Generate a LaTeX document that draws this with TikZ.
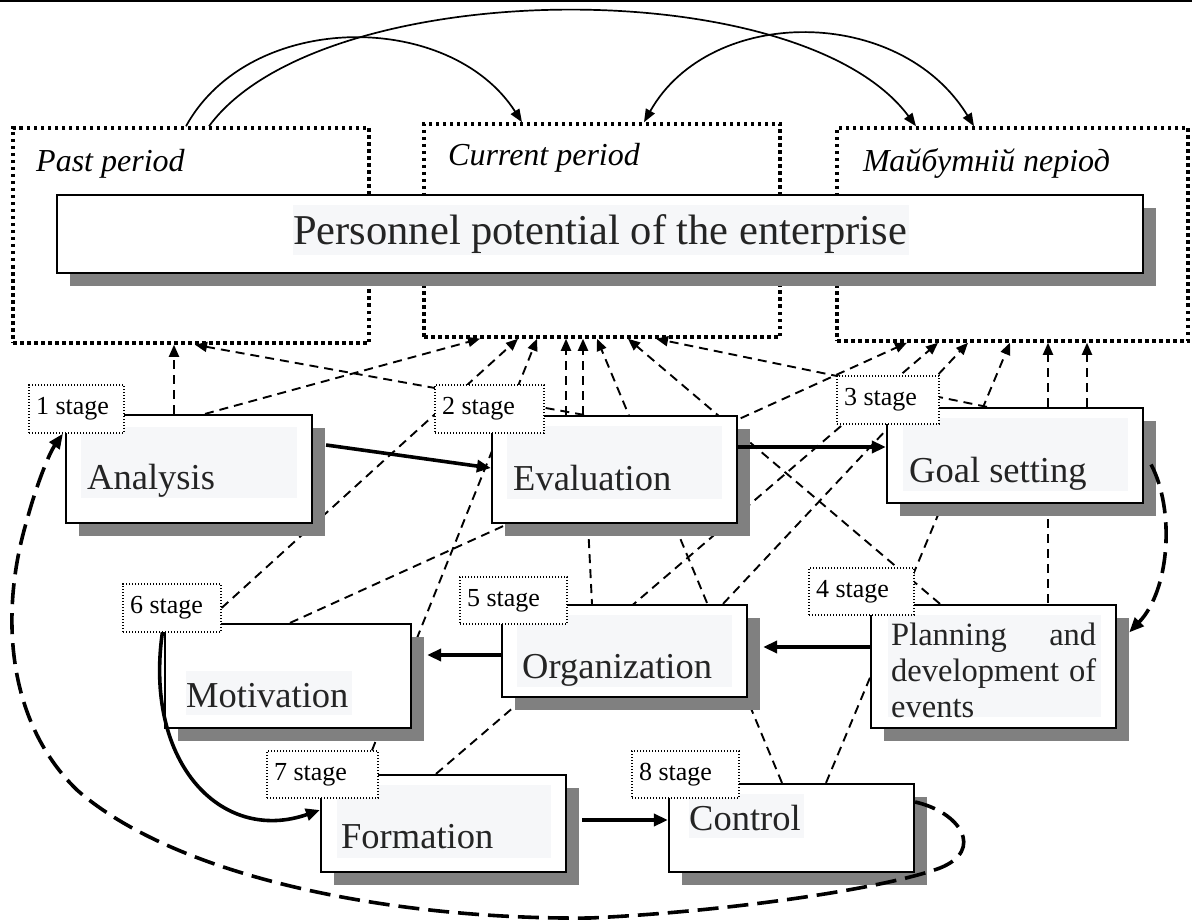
\documentclass[tikz,border=0pt]{standalone}
\usepackage{fontspec}
\setmainfont{Liberation Serif}
\usetikzlibrary{arrows.meta,shadows,backgrounds,calc}
\definecolor{hl}{HTML}{F6F7F9}
\definecolor{txt}{HTML}{242424}
\definecolor{shd}{HTML}{808080}
\begin{document}
\begin{tikzpicture}[x=1pt,y=-1pt,
  period/.style={draw, line width=3.5pt, dash pattern=on 3.5pt off 3.5pt, inner sep=0pt},
  box/.style={draw=black, fill=white, line width=2.2pt, inner sep=0pt,
    drop shadow={shadow xshift=13pt, shadow yshift=-13pt, fill=shd, draw=none, opacity=1}},
  lbl/.style={draw, fill=white, line width=1.2pt, dash pattern=on 1.2pt off 1.8pt, inner sep=0pt,
    font=\fontsize{26}{30}\selectfont, text=black},
  btxt/.style={anchor=base west, inner sep=0pt, text=txt, font=\fontsize{36.5}{42}\selectfont},
  ptxt/.style={anchor=base west, inner sep=0pt, text=black, font=\fontsize{32}{38}\selectfont\itshape},
  dsh/.style={line width=1.9pt, dash pattern=on 9pt off 6pt, -{Triangle[length=12pt,width=10pt]}},
  dshl/.style={line width=1.9pt, dash pattern=on 9pt off 6pt},
  sol/.style={line width=3.6pt, -{Triangle[length=14pt,width=12pt]}},
  arcl/.style={line width=1.7pt, -{Triangle[length=13pt,width=10pt]}},
  bigd/.style={line width=3.6pt, dash pattern=on 21pt off 9pt, -{Triangle[length=15pt,width=12pt]}}
]
\useasboundingbox (0,0) rectangle (1192,920);
\draw[line width=2pt] (0,1) -- (1192,1);

% period boxes
\node[period, minimum width=356pt, minimum height=215pt] (past) at (191,235.5) {};
\node[period, minimum width=356pt, minimum height=213pt] (cur) at (602,230.5) {};
\node[period, minimum width=351pt, minimum height=213pt] (fut) at (1012.5,234.5) {};
\node[ptxt] (pastt) at (36,172) {Past period};
\node[ptxt] (curt) at (448,166) {Current period};
\node[ptxt] (futt) at (863,172) {Майбутній період};

% main box
\node[box, minimum width=1086pt, minimum height=78pt] (main) at (600,234) {};
\fill[hl] (293,205) rectangle (909,255);
\node[btxt, font=\fontsize{42.5}{50}\selectfont] (maint) at (293,245) {Personnel potential of the enterprise};

% stage boxes
\node[box, minimum width=246pt, minimum height=108pt] (ana) at (189,469) {};
\node[box, minimum width=245pt, minimum height=107pt] (eva) at (614.5,469.5) {};
\node[box, minimum width=256pt, minimum height=95pt] (goal) at (1015,455.5) {};
\node[box, minimum width=245pt, minimum height=123pt] (plan) at (993.5,666.5) {};
\node[box, minimum width=245pt, minimum height=92pt] (org) at (624.5,651) {};
\node[box, minimum width=246pt, minimum height=104pt] (mot) at (288,676) {};
\node[box, minimum width=245pt, minimum height=97pt] (form) at (443.5,823.5) {};
\node[box, minimum width=245pt, minimum height=88pt] (ctrl) at (791.5,828) {};

% text highlights and texts
\fill[hl] (81,427) rectangle (297,498);
\fill[hl] (507,426) rectangle (722,499);
\fill[hl] (903,418) rectangle (1128,491);
\fill[hl] (888,615) rectangle (1101,717);
\fill[hl] (517,615) rectangle (732,687);
\fill[hl] (186,671) rectangle (352,715);
\fill[hl] (337,785) rectangle (551,858);
\fill[hl] (689,794) rectangle (804,838);
\node[btxt] (anat) at (87,489) {Analysis};
\node[btxt] (evat) at (513,490) {Evaluation};
\node[btxt] (goalt) at (909,482) {Goal setting};
\node[btxt] (orgt) at (522,678) {Organization};
\node[btxt] (mott) at (186,707) {Motivation};
\node[btxt] (formt) at (341,848) {Formation};
\node[btxt] (ctrlt) at (689,830) {Control};
\begin{scope}
\clip (885,610) rectangle (1105,717.5);
\node[anchor=north west, inner sep=0pt, text=txt, align=left,
  font=\fontsize{32.5}{36}\selectfont] (plant) at (891,623)
  {\makebox[205pt][s]{Planning and}\\\makebox[205pt][s]{development of}\\\makebox[205pt][l]{events}};
\end{scope}

% solid arrows
\draw[sol] ($(ana.east)+(13,-24)$) -- (eva.west |- 0,468);
\draw[sol] (eva.east |- 0,447) -- (goal.west |- 0,447);
\draw[sol] (plan.west |- 0,647) -- ($(org.east |- 0,647)+(15,0)$);
\draw[sol] (org.west |- 0,655) -- ($(mot.east |- 0,655)+(15,0)$);
\draw[sol] ($(form.east |- 0,820)+(15,0)$) -- (ctrl.west |- 0,820);
\draw[sol] (mot.north west) .. controls (140,760) and (220,845) .. (form.west |- 0,810);

% top arcs
\draw[arcl] (186,0 |- past.north) .. controls (250,10) and (450,10) .. (522,0 |- cur.north);
\draw[arcl] (209,0 |- past.north) .. controls (320,-25) and (800,-30) .. (916,0 |- fut.north);
\draw[arcl, {Triangle[length=13pt,width=10pt]}-{Triangle[length=13pt,width=10pt]}]
  (644,0 |- cur.north) .. controls (710,5) and (900,5) .. (974,0 |- fut.north);

% stage labels
\node[lbl, minimum width=95pt, minimum height=48pt] (s1) at (76.5,409) {\makebox[81pt][l]{1 stage}};
\node[lbl, minimum width=109pt, minimum height=48pt] (s2) at (489.5,409) {\makebox[95pt][l]{2 stage}};
\node[lbl, minimum width=102pt, minimum height=48pt] (s3) at (888,400) {\makebox[88pt][l]{3 stage}};
\node[lbl, minimum width=105pt, minimum height=47pt] (s4) at (861.5,591.5) {\makebox[91pt][l]{4 stage}};
\node[lbl, minimum width=107pt, minimum height=47pt] (s5) at (513.5,600.5) {\makebox[93pt][l]{5 stage}};
\node[lbl, minimum width=98pt, minimum height=48pt] (s6) at (172,608) {\makebox[84pt][l]{6 stage}};
\node[lbl, minimum width=111pt, minimum height=47pt] (s7) at (322.5,774.5) {\makebox[97pt][l]{7 stage}};
\node[lbl, minimum width=107pt, minimum height=47pt] (s8) at (685.5,774.5) {\makebox[93pt][l]{8 stage}};

% dashed curved arrows
\draw[bigd] ($(goal.east)+(7,9)$) .. controls (1175,510) and (1170,590) .. ($(plan.east)+(12,-34)$);
\draw[bigd] ($(ctrl.east)+(0,-26)$) .. controls (960,812) and (985,850) .. (940,868)
  .. controls (880,890) and (720,912) .. (590,918)
  .. controls (400,920) and (180,880) .. (77,790)
  .. controls (5,720) and (0,610) .. (27,520)
  .. controls (35,490) and (48,455) .. (s1.south -| 63,0);

% dashed links (behind boxes)
\begin{pgfonlayer}{background}
\draw[dsh] (174,0 |- ana.north) -- (174,0 |- past.south);
\draw[dsh] (584,0 |- eva.north) -- (195,0 |- past.south);
\draw[dsh] (205,0 |- ana.north) -- (480,0 |- cur.south);
\draw[dsh] (s6.east) -- (518,0 |- cur.south);
\draw[dsh] (372,0 |- s7.north) -- (537,0 |- cur.south);
\draw[dsh] (566,0 |- eva.north) -- (566,0 |- cur.south);
\draw[dsh] (583,0 |- eva.north) -- (583,0 |- cur.south);
\draw[dsh] (782,0 |- ctrl.north) -- (597,0 |- cur.south);
\draw[dsh] (940,0 |- plan.north) -- (628,0 |- cur.south);
\draw[dsh] (987,0 |- goal.north) -- (656,0 |- cur.south);
\draw[dsh] (290,0 |- mot.north) -- (907,0 |- fut.south);
\draw[dsh] (436,0 |- form.north) -- (938,0 |- fut.south);
\draw[dsh] (723,0 |- org.north) -- (968,0 |- fut.south);
\draw[dsh] (826,0 |- ctrl.north) -- (1010,0 |- fut.south);
\draw[dsh] (1048,0 |- goal.north) -- (1048,0 |- fut.south);
\draw[dsh] (1087,0 |- goal.north) -- (1087,0 |- fut.south);
\draw[dshl] (588,0 |- eva.south) -- (592,0 |- org.north);
\draw[dshl] (1048,0 |- goal.south) -- (1048,0 |- plan.north);
\end{pgfonlayer}
\end{tikzpicture}
\end{document}
